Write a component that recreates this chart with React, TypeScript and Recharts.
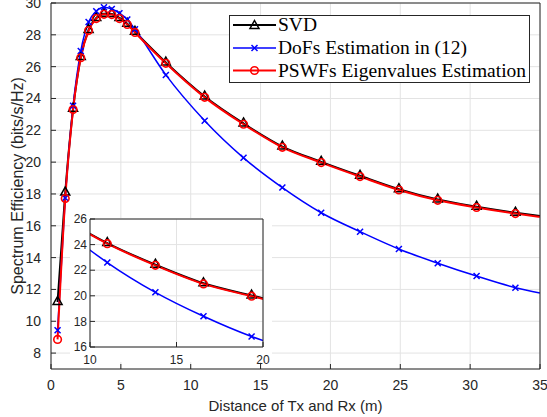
import React from 'react';
import { ComposedChart, LineChart, Line, XAxis, YAxis, CartesianGrid } from 'recharts';

const distance = [0.47, 1.02, 1.58, 2.13, 2.69, 3.24, 3.79, 4.35, 4.9, 5.46, 6.01, 8.22, 11.0, 13.78, 16.56, 19.34, 22.12, 24.9, 27.68, 30.46, 33.24, 35];
const svd = [11.21, 18.09, 23.35, 26.6, 28.31, 29.06, 29.33, 29.31, 29.06, 28.69, 28.19, 26.26, 24.12, 22.43, 20.98, 20.02, 19.14, 18.3, 17.65, 17.2, 16.82, 16.61];
const dofs = [9.44, 17.75, 23.54, 26.98, 28.81, 29.48, 29.73, 29.62, 29.36, 28.96, 28.35, 25.48, 22.6, 20.27, 18.4, 16.82, 15.63, 14.54, 13.65, 12.84, 12.11, 11.78];
const pswf = [8.86, 17.71, 23.3, 26.56, 28.27, 29.02, 29.29, 29.27, 29.02, 28.65, 28.15, 26.21, 24.07, 22.38, 20.93, 19.97, 19.09, 18.25, 17.6, 17.15, 16.77, 16.56];

const xTicks = [0, 5, 10, 15, 20, 25, 30, 35];
const yTicks = [8, 10, 12, 14, 16, 18, 20, 22, 24, 26, 28, 30];
const insetXTicks = [10, 15, 20];
const insetYTicks = [16, 18, 20, 22, 24, 26];
const seriesNames = ['SVD', 'DoFs Estimation in (12)', 'PSWFs Eigenvalues Estimation'];
const xLabel = 'Distance of Tx and Rx (m)';
const yLabel = 'Spectrum Efficiency (bits/s/Hz)';

const data = distance.map((x, i) => ({ x, svd: svd[i], dofs: dofs[i], pswf: pswf[i] }));
const LAST = distance.length - 1;

const AX = '#262626';
const GRID = '#e3e3e3';
const SANS = '"Liberation Sans", Arial, Helvetica, sans-serif';
const SERIF = '"Liberation Serif", "Times New Roman", serif';

const triPath = (cx: number, cy: number) => `M${cx},${cy - 5.5}L${cx + 4.5},${cy + 2.5}L${cx - 4.5},${cy + 2.5}Z`;
const crossPath = (cx: number, cy: number) => `M${cx - 3},${cy - 3}L${cx + 3},${cy + 3}M${cx - 3},${cy + 3}L${cx + 3},${cy - 3}`;

const TriDot = (p: any) => {
  const { cx, cy, index } = p;
  if (index === LAST || cx == null || cy == null) return <g key={`t${index}`} />;
  return <path key={`t${index}`} d={triPath(cx, cy)} fill="none" stroke="#000" strokeWidth={1.5} />;
};
const CrossDot = (p: any) => {
  const { cx, cy, index } = p;
  if (index === LAST || cx == null || cy == null) return <g key={`x${index}`} />;
  return <path key={`x${index}`} d={crossPath(cx, cy)} fill="none" stroke="#0000ff" strokeWidth={1.5} />;
};
const CircDot = (p: any) => {
  const { cx, cy, index } = p;
  if (index === LAST || cx == null || cy == null) return <g key={`c${index}`} />;
  return <circle key={`c${index}`} cx={cx} cy={cy} r={3.8} fill="none" stroke="#ff0000" strokeWidth={1.6} />;
};

const XLabelContent = (props: any) => {
  const vb = props.viewBox || {};
  return (
    <text x={vb.x + vb.width / 2} y={411} textAnchor="middle" fontSize={15} fill={AX} fontFamily={SANS}>
      {xLabel}
    </text>
  );
};
const YLabelContent = (props: any) => {
  const vb = props.viewBox || {};
  const cy = vb.y + vb.height / 2;
  return (
    <text x={23} y={cy} transform={`rotate(-90, 23, ${cy})`} textAnchor="middle" fontSize={16} fill={AX} fontFamily={SANS}>
      {yLabel}
    </text>
  );
};

const LegendBox = () => {
  const rows = [
    { y: 25, color: '#000', kind: 'tri' },
    { y: 48, color: '#0000ff', kind: 'x' },
    { y: 70.5, color: '#ff0000', kind: 'circ' },
  ];
  return (
    <svg width={547} height={417} style={{ position: 'absolute', left: 0, top: 0, pointerEvents: 'none' }}>
      <rect x={229.5} y={15.5} width={300} height={67} fill="#fff" stroke={AX} strokeWidth={1} />
      {rows.map((r, i) => (
        <g key={i}>
          <line x1={233} y1={r.y} x2={276} y2={r.y} stroke={r.color} strokeWidth={i === 1 ? 1.5 : 2} />
          {r.kind === 'tri' && <path d={triPath(254.5, r.y + 1)} fill="none" stroke="#000" strokeWidth={1.5} />}
          {r.kind === 'x' && <path d={crossPath(254.5, r.y)} fill="none" stroke="#0000ff" strokeWidth={1.5} />}
          {r.kind === 'circ' && <circle cx={254.5} cy={r.y} r={3.8} fill="none" stroke="#ff0000" strokeWidth={1.6} />}
          <text x={278} y={r.y + 6} fontSize={19.5} fontFamily={SERIF} fill="#000">
            {seriesNames[i]}
          </text>
        </g>
      ))}
    </svg>
  );
};

const tickStyle = { fill: AX, fontSize: 14, fontFamily: SANS };
const insetTickStyle = { fill: AX, fontSize: 12, fontFamily: SANS };

export default function App() {
  return (
    <div style={{ position: 'absolute', left: 0, top: 0, width: 547, height: 417, background: '#fff', overflow: 'hidden' }}>
      <ComposedChart width={547} height={417} data={data} margin={{ top: 2, right: 6, bottom: 0, left: 0 }}>
        <CartesianGrid stroke={GRID} strokeWidth={1} />
        <XAxis
          xAxisId={0}
          type="number"
          dataKey="x"
          domain={[0, 35]}
          ticks={xTicks}
          interval={0}
          allowDataOverflow
          height={48}
          tickSize={-5}
          tickMargin={16}
          stroke={AX}
          tick={tickStyle}
          label={XLabelContent}
        />
        <XAxis
          xAxisId="t"
          orientation="top"
          type="number"
          dataKey="x"
          domain={[0, 35]}
          ticks={xTicks}
          interval={0}
          allowDataOverflow
          height={1}
          tickSize={-5}
          stroke={AX}
          tick={false}
        />
        <YAxis
          yAxisId={0}
          type="number"
          domain={[7, 30]}
          ticks={yTicks}
          interval={0}
          allowDataOverflow
          width={51}
          tickSize={-5}
          tickMargin={15}
          stroke={AX}
          tick={tickStyle}
          label={YLabelContent}
        />
        <YAxis
          yAxisId="r"
          orientation="right"
          type="number"
          domain={[7, 30]}
          ticks={yTicks}
          interval={0}
          allowDataOverflow
          width={1}
          tickSize={-5}
          stroke={AX}
          tick={false}
        />
        <Line type="monotone" dataKey="svd" stroke="#000" strokeWidth={2} dot={TriDot} activeDot={false} isAnimationActive={false} />
        <Line type="monotone" dataKey="dofs" stroke="#0000ff" strokeWidth={1.5} dot={CrossDot} activeDot={false} isAnimationActive={false} />
        <Line type="monotone" dataKey="pswf" stroke="#ff0000" strokeWidth={2} dot={CircDot} activeDot={false} isAnimationActive={false} />
      </ComposedChart>

      <LegendBox />

      <div style={{ position: 'absolute', left: 70, top: 218, width: 202, height: 144, background: '#fff' }} />
      <div style={{ position: 'absolute', left: 60, top: 205, width: 215, height: 165 }}>
        <LineChart width={215} height={165} data={data} margin={{ top: 13, right: 11, bottom: 0, left: 0 }}>
          <CartesianGrid stroke={GRID} strokeWidth={1} />
          <XAxis
            xAxisId={0}
            type="number"
            dataKey="x"
            domain={[10, 20]}
            ticks={insetXTicks}
            interval={0}
            allowDataOverflow
            height={23}
            tickSize={-5}
            tickMargin={13}
            stroke={AX}
            tick={insetTickStyle}
          />
          <XAxis
            xAxisId="t"
            orientation="top"
            type="number"
            dataKey="x"
            domain={[10, 20]}
            ticks={insetXTicks}
            interval={0}
            allowDataOverflow
            height={1}
            tickSize={-5}
            stroke={AX}
            tick={false}
          />
          <YAxis
            yAxisId={0}
            type="number"
            domain={[16, 26]}
            ticks={insetYTicks}
            interval={0}
            allowDataOverflow
            width={30}
            tickSize={-5}
            tickMargin={8}
            stroke={AX}
            tick={insetTickStyle}
          />
          <YAxis
            yAxisId="r"
            orientation="right"
            type="number"
            domain={[16, 26]}
            ticks={insetYTicks}
            interval={0}
            allowDataOverflow
            width={1}
            tickSize={-5}
            stroke={AX}
            tick={false}
          />
          <Line type="monotone" dataKey="svd" stroke="#000" strokeWidth={2} dot={TriDot} activeDot={false} isAnimationActive={false} />
          <Line type="monotone" dataKey="dofs" stroke="#0000ff" strokeWidth={1.5} dot={CrossDot} activeDot={false} isAnimationActive={false} />
          <Line type="monotone" dataKey="pswf" stroke="#ff0000" strokeWidth={2} dot={CircDot} activeDot={false} isAnimationActive={false} />
        </LineChart>
      </div>
    </div>
  );
}
